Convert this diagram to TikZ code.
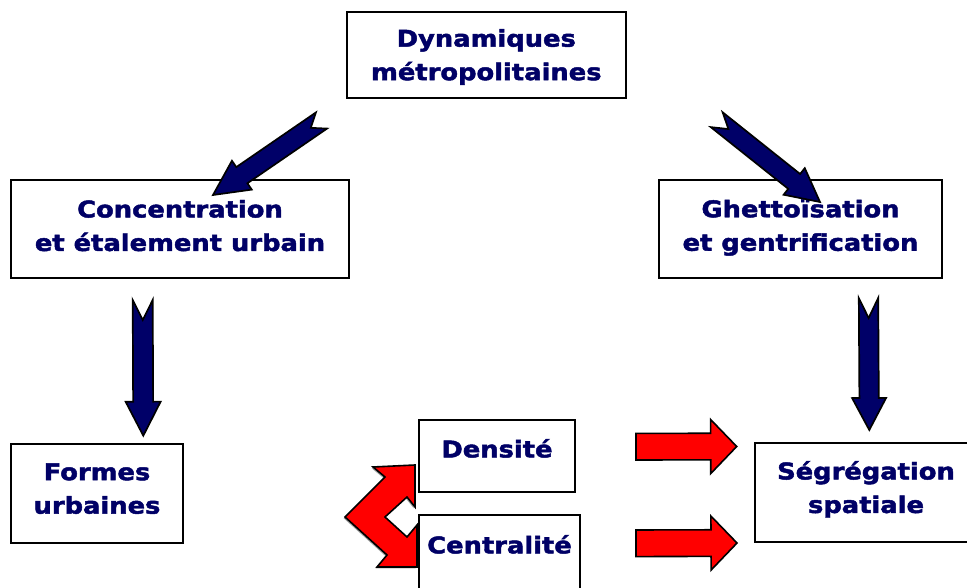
\documentclass[tikz,border=0pt]{standalone}
\usepackage{fontspec}
\newfontfamily\labelfont{DejaVu Sans Bold}[FakeStretch=1.12, FakeBold=2]
\usetikzlibrary{calc}
\definecolor{navytext}{RGB}{0,0,102}
\definecolor{navyfill}{RGB}{0,0,104}
\definecolor{redfill}{RGB}{255,0,0}
\definecolor{shadowgray}{RGB}{160,160,160}
% #1 style, #2 tail, #3 tip, #4 shaft half width, #5 head half width, #6 head length, #7 notch depth
\newcommand\blockarrow[7]{%
  \path[#1] let \p1=(#2), \p2=(#3),
    \n1={atan2(\y2-\y1,\x2-\x1)}, \n2={veclen(\x2-\x1,\y2-\y1)} in
    [shift={(\p1)}, rotate=\n1]
    (0pt,#4) -- ({\n2*1pt-#6},#4) -- ({\n2*1pt-#6},#5) -- ({\n2*1pt},0pt)
    -- ({\n2*1pt-#6},-#5) -- ({\n2*1pt-#6},-#4) -- (0pt,-#4) -- (#7,0pt) -- cycle;}
\begin{document}
\begin{tikzpicture}[x=1bp,y=-1bp,
  box/.style={draw=black, line width=2bp, fill=white, inner sep=0pt,
    text=navytext, font=\labelfont\fontsize{23bp}{33.5bp}\selectfont,
    align=center},
  oneline/.style={text height=16.8bp},
  twolines/.style={text height=50.3bp},
  navyarrow/.style={fill=navyfill, draw=black, line width=1.7bp, line join=miter},
  redarrow/.style={fill=redfill, draw=black, line width=1.6bp, line join=miter},
  arrowshadow/.style={fill=shadowgray, shift={(-1.3bp,-1.3bp)}}]
\useasboundingbox (0,0) rectangle (967,588);
\clip (0,0) rectangle (967,588);
\fill[white] (0,0) rectangle (967,588);

% boxes
\node[box, twolines, minimum width=279bp, minimum height=85.5bp, text depth=0bp] (dyn) at (486.3,55)
  {Dynamiques\\métropolitaines};
\node[box, twolines, minimum width=338.6bp, minimum height=98.3bp, text depth=6.8bp] (conc) at (180,229.2)
  {Concentration\\et étalement urbain};
\node[box, twolines, minimum width=283bp, minimum height=98bp, text depth=6.8bp] (ghet) at (800.5,229)
  {Ghettoïsation\\et gentrification};
\node[box, twolines, minimum width=172bp, minimum height=99bp, text depth=10bp] (formes) at (97,493.5)
  {Formes\\urbaines};
\node[box, oneline, minimum width=156bp, minimum height=72bp, text depth=14bp] (dens) at (497,456)
  {Densité};
\node[box, oneline, minimum width=161bp, minimum height=74bp, text depth=14bp] (centr) at (499.5,552)
  {Centralité};
\node[box, twolines, minimum width=222bp, minimum height=99bp, text depth=10bp] (seg) at (866,492.8)
  {Ségrégation\\spatiale};

% arrow end points
\coordinate (a1t) at (321.5,120.5); \coordinate (a1h) at (213,195);
\coordinate (a2t) at (716.7,119.7); \coordinate (a2h) at (820,202);
\coordinate (a3t) at (142.7,300);   \coordinate (a3h) at (143.3,435.7);
\coordinate (a4t) at (868.5,298);   \coordinate (a4h) at (869.3,430);
\coordinate (r1t) at (636,446.7);   \coordinate (r1h) at (736.7,446.5);
\coordinate (r2t) at (636,543.3);   \coordinate (r2h) at (737,543);

% blue arrows
\blockarrow{arrowshadow}{a1t}{a1h}{9.8bp}{17.5bp}{35bp}{13bp}
\blockarrow{navyarrow}{a1t}{a1h}{9.8bp}{17.5bp}{35bp}{13bp}
\blockarrow{arrowshadow}{a2t}{a2h}{9.5bp}{17bp}{33bp}{15bp}
\blockarrow{navyarrow}{a2t}{a2h}{9.5bp}{17bp}{33bp}{15bp}
\blockarrow{arrowshadow}{a3t}{a3h}{10bp}{17.5bp}{34bp}{20bp}
\blockarrow{navyarrow}{a3t}{a3h}{10bp}{17.5bp}{34bp}{20bp}
\blockarrow{arrowshadow}{a4t}{a4h}{9.7bp}{17bp}{32bp}{20bp}
\blockarrow{navyarrow}{a4t}{a4h}{9.7bp}{17bp}{32bp}{20bp}

% red straight arrows
\blockarrow{arrowshadow}{r1t}{r1h}{13.3bp}{27bp}{26bp}{0bp}
\blockarrow{redarrow}{r1t}{r1h}{13.3bp}{27bp}{26bp}{0bp}
\blockarrow{arrowshadow}{r2t}{r2h}{13.3bp}{27bp}{26bp}{0bp}
\blockarrow{redarrow}{r2t}{r2h}{13.3bp}{27bp}{26bp}{0bp}

% red bent double arrow between Densité and Centralité
\fill[shadowgray, shift={(-1.3bp,-1.3bp)}] (373,467) -- (415,465) -- (415,507) -- (407,497)
  -- (385,517) -- (407,537) -- (417,525) -- (417,567) -- (377,567) -- (387,555)
  -- (345,517) -- (385,477) -- cycle;
\draw[redarrow] (373,467) -- (415,465) -- (415,507) -- (407,497)
  -- (385,517) -- (407,537) -- (417,525) -- (417,567) -- (377,567) -- (387,555)
  -- (345,517) -- (385,477) -- cycle;
\end{tikzpicture}
\end{document}
